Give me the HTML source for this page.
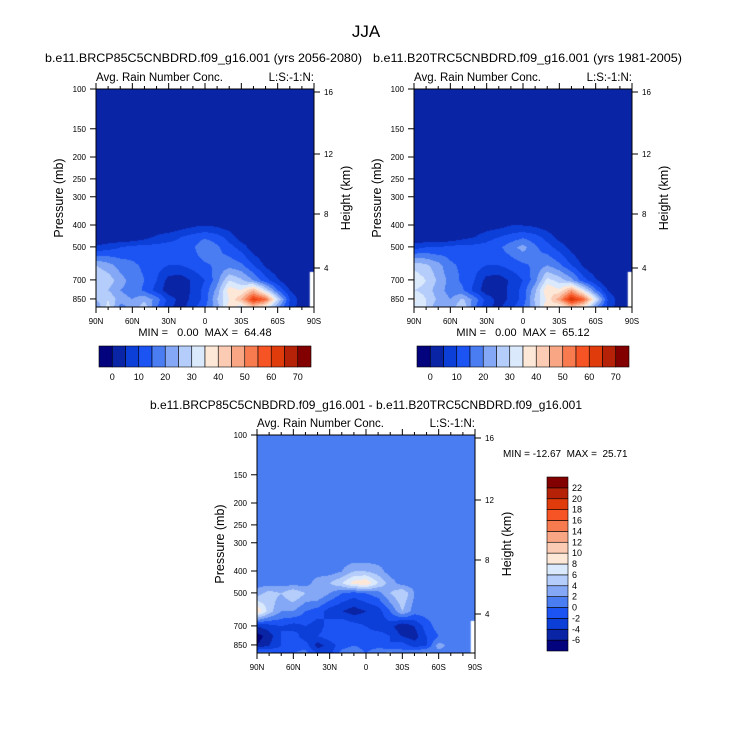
<!DOCTYPE html>
<html><head><meta charset="utf-8">
<style>
html,body{margin:0;padding:0;background:#fff;}
#wrap{position:relative;width:733px;height:746px;overflow:hidden;font-family:"Liberation Sans",sans-serif;}
canvas{position:absolute;}
svg{position:absolute;left:0;top:0;}
text{font-family:"Liberation Sans",sans-serif;fill:#000;white-space:pre;}
</style></head><body>
<div id="wrap">
<canvas id="c1" width="218" height="218" style="left:96px;top:89px"></canvas>
<canvas id="c2" width="218" height="218" style="left:414px;top:89px"></canvas>
<canvas id="c3" width="218" height="218" style="left:257px;top:435px"></canvas>
<svg id="s" width="733" height="746"></svg>
</div>
<script>
// ---- data ----
const lats = [90,80,70,60,50,40,30,20,10,0,-10,-20,-30,-40,-50,-60,-70,-80,-90];
const pres = [350,400,450,500,600,700,775,850,925];
const fieldFuture = [
 [0,0,0,0,0,0,0,0,0,0,0,0,0,0,0,0,0,0,0],
 [0,0,0,0,0,0,0,2,4,5,4,2,0,0,0,0,0,0,0],
 [0,0,0,0,3,6,8,10,12,14,12,8,2,0,0,0,0,0,0],
 [6,8,10,12,12,12,12,12,14,20,16,12,8,2,0,0,0,0,0],
 [25,22,18,16,14,12,10,10,12,14,16,18,16,10,4,0,0,0,0],
 [30,28,22,18,15,10,3,2,6,10,18,30,26,20,12,6,0,0,0],
 [28,25,20,18,14,8,2,2,6,12,22,38,35,45,30,15,5,0,0],
 [25,30,22,20,24,18,8,3,6,12,25,35,45,62,55,30,10,2,0],
 [20,32,18,22,28,15,6,3,8,15,22,38,30,40,32,20,8,2,0]];
const fieldHist = [
 [0,0,0,0,0,0,0,0,0,0,0,0,0,0,0,0,0,0,0],
 [0,0,0,0,0,0,2,3,5,5,4,2,0,0,0,0,0,0,0],
 [0,0,0,0,3,5,8,10,12,14,12,8,3,0,0,0,0,0,0],
 [8,10,10,12,12,12,12,14,18,22,16,12,8,3,0,0,0,0,0],
 [28,26,22,16,14,12,10,10,12,14,16,20,16,10,4,0,0,0,0],
 [34,30,24,18,14,10,3,2,6,10,18,32,28,22,12,6,0,0,0],
 [30,28,22,18,16,8,2,3,6,12,24,40,36,48,32,16,5,0,0],
 [36,30,24,20,26,18,8,3,6,12,26,36,48,65,56,32,10,2,0],
 [32,30,20,22,30,16,6,4,8,15,24,40,32,42,34,20,8,2,0]];
const fieldDiff = [
 [1,1,1,1,1,1,1,1,1,1,1,1,1,1,1,1,1,1,1],
 [1,1,1,1,1,1,1,2,4,4,3,1,1,1,1,1,1,1,1],
 [1,1,1,1,1,3,4,6,9,10,6,3,1,1,1,1,1,1,1],
 [3,5,4,6,4,4,2,0,-1,0,1,4,6,2,1,1,1,1,1],
 [10,5,2,2,0,-1,-3,-4,-5,-4,-3,0,4,1,1,1,1,1,1],
 [-4,-3,-2,-3,-2,-3,-1,0,-1,-2,-3,-3,-6,-4,-1,1,1,1,1],
 [-7,-5,-2,-1,-3,-2,-1,0,0,-1,-1,-2,-4,-5,-2,0,2,1,1],
 [-6,-4,-2,-1,-1,-5,-3,-1,0,-1,-1,-2,-1,-3,-2,3,1,1,1],
 [2,1,-1,0,1,-2,-3,1,2,0,2,3,1,2,3,1,1,1,1]];
const levelsTop = [0,5,10,15,20,25,30,35,40,45,50,55,60,65,70];
const levelsDiff = [-6,-4,-2,0,2,4,6,8,10,12,14,16,18,20,22];
const cbTopLabels = ["0","10","20","30","40","50","60","70"];
const cbDiffLabels = ["-6","-4","-2","0","2","4","6","8","10","12","14","16","18","20","22"];
const presTicks = [100,150,200,250,300,400,500,700,850];
const heightTicks = ["16","12","8","4"];
const latTicks = ["90N","60N","30N","0","30S","60S","90S"];
const palette = ['#03037e','#0a24a6','#0c3ed8','#1c54f4','#4a7cf2','#84a8f5','#b5cdfa','#dbe9fc','#fde7d7','#fbcbb3','#f8a684','#f77b4f','#f65424','#e03b0b','#b52208','#830000'];

// ---- scales ----
const PH = 218, PW = 218;
const kLog = 98.1;
function yOfP(p){ return Math.log(p/100)*kLog; }
function pOfY(y){ return 100*Math.exp(y/kLog); }
function xOfLat(l){ return (90-l)/180*PW; }
function latOfX(x){ return 90 - x/PW*180; }
const heightOff = [3,65,125,179];

function sample(f, lat, p){
  let li = (90-lat)/10; li=Math.max(0,Math.min(lats.length-1.0001,li));
  let i0=Math.floor(li), tx=li-i0;
  if(p<=pres[0]) return f[0][Math.round(li)];
  let j0=0; while(j0<pres.length-2 && p>pres[j0+1]) j0++;
  let ty=(Math.log(p)-Math.log(pres[j0]))/(Math.log(pres[j0+1])-Math.log(pres[j0]));
  ty=Math.max(0,Math.min(1,ty));
  const a=f[j0][i0]*(1-tx)+f[j0][i0+1]*tx;
  const b=f[j0+1][i0]*(1-tx)+f[j0+1][i0+1]*tx;
  return a*(1-ty)+b*ty;
}
function colorIdx(v, lv){ let k=0; while(k<lv.length && v>=lv[k]) k++; return k; }
function draw(id, f, lv, missP){
  const ctx=document.getElementById(id).getContext('2d');
  for(let y=0;y<PH;y++){ const p=pOfY(y);
    for(let x=0;x<PW;x++){ const lat=latOfX(x+0.5);
      ctx.fillStyle=palette[colorIdx(sample(f,lat,p),lv)];
      ctx.fillRect(x,y,1,1);
    }}
  ctx.fillStyle='#fff';
  ctx.fillRect(xOfLat(-86.5), yOfP(missP), PW, PH);
}
draw('c1',fieldFuture,levelsTop,645);
draw('c2',fieldHist,levelsTop,645);
draw('c3',fieldDiff,levelsDiff,665);

// ---- svg overlay ----
const NS='http://www.w3.org/2000/svg';
const svg=document.getElementById('s');
function el(tag, attrs, txt){ const e=document.createElementNS(NS,tag); for(const k in attrs) e.setAttribute(k,attrs[k]); if(txt!==undefined) e.textContent=txt; svg.appendChild(e); return e; }

let t=el('text',{x:366,y:37,'font-size':17,'text-anchor':'middle'},'JJA');
 

function panel(ox, oy, name, subtitle, subX, subLen){
  if(subtitle){ const s=el('text',{x:subX,y:62,'font-size':12,textLength:subLen,lengthAdjust:'spacingAndGlyphs'},subtitle);
      }
  const a=el('text',{x:ox,y:oy-8,'font-size':11.5},'Avg. Rain Number Conc.');
   
  const b=el('text',{x:ox+PW,y:oy-8,'font-size':11.5,'text-anchor':'end'},'L:S:-1:N:');
   
  const r=el('rect',{x:ox,y:oy,width:PW,height:PH,fill:'none',stroke:'#000','stroke-width':1});
   
  presTicks.forEach(p=>{ const y=oy+yOfP(p);
    el('line',{x1:ox-6,x2:ox,y1:y,y2:y,stroke:'#000'});
    const tl=el('text',{x:ox-10,y:y+3,'font-size':8,'text-anchor':'end'},String(p));
      });
  heightTicks.forEach((h,i)=>{ const y=oy+heightOff[i];
    el('line',{x1:ox+PW,x2:ox+PW+6,y1:y,y2:y,stroke:'#000'});
    const tl=el('text',{x:ox+PW+10,y:y+3,'font-size':8},h);
      });
  for(let l=90;l>=-90;l-=10){ const x=ox+xOfLat(l), big=(l%30===0);
    el('line',{x1:x,x2:x,y1:oy+PH,y2:oy+PH+(big?6:3),stroke:'#000'});
    el('line',{x1:x,x2:x,y1:oy,y2:oy-(big?6:3),stroke:'#000'}); }
  latTicks.forEach((lab,i)=>{ const tl=el('text',{x:ox+i*PW/6,y:oy+PH+17,'font-size':8,'text-anchor':'middle'},lab);
      });
  const yl=el('text',{x:0,y:0,'font-size':12.5,'text-anchor':'middle',transform:`translate(${ox-33},${oy+109}) rotate(-90)`},'Pressure (mb)');
   
  const yr=el('text',{x:0,y:0,'font-size':12.5,'text-anchor':'middle',transform:`translate(${ox+PW+36},${oy+109}) rotate(-90)`},'Height (km)');
   
}
panel(96,89,'future','b.e11.BRCP85C5CNBDRD.f09_g16.001 (yrs 2056-2080)',45,317);
panel(414,89,'historical','b.e11.B20TRC5CNBDRD.f09_g16.001 (yrs 1981-2005)',373,309);
panel(257,435,'difference',null,0,0);

function minmax(x,txt,name){ const m=el('text',{x:x,y:336,'font-size':11,'text-anchor':'middle'},txt);
    }
minmax(205,'MIN =   0.00  MAX =  64.48','future-min-max');
minmax(523,'MIN =   0.00  MAX =  65.12','historical-min-max');
const dm=el('text',{x:503,y:457,'font-size':10},'MIN = -12.67  MAX =  25.71');
 
const bt=el('text',{x:366,y:409,'font-size':12,'text-anchor':'middle',textLength:432,lengthAdjust:'spacingAndGlyphs'},'b.e11.BRCP85C5CNBDRD.f09_g16.001 - b.e11.B20TRC5CNBDRD.f09_g16.001');
 

function hbar(x0,name){ const w=212/16;
  palette.forEach((c,i)=>{ const r=el('rect',{x:x0+i*w,y:346,width:w,height:21,fill:c,stroke:'#000','stroke-width':0.6});
      });
  cbTopLabels.forEach((lab,i)=>{ const tl=el('text',{x:x0+(1+2*i)*w,y:380,'font-size':9,'text-anchor':'middle'},lab);
      });
}
hbar(99,'future-colorbar'); hbar(417,'historical-colorbar');
(function(){ const x0=547,y0=477,h=174/16;
  palette.forEach((c,i)=>{ const r=el('rect',{x:x0,y:y0+(15-i)*h,width:21,height:h,fill:c,stroke:'#000','stroke-width':0.6});
      });
  cbDiffLabels.forEach((lab,i)=>{ const tl=el('text',{x:x0+25,y:y0+(15-i)*h+3,'font-size':9},lab);
      });
})();
</script>
</body></html>
